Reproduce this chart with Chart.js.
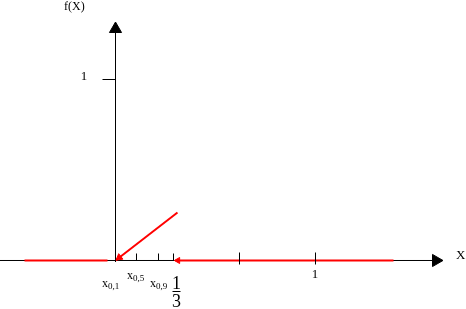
<!DOCTYPE html>
<html><head><meta charset="utf-8">
<script src="https://cdn.jsdelivr.net/npm/chart.js@4/dist/chart.umd.min.js"></script>
<style>html,body{margin:0;padding:0;background:#fff}canvas{display:block}</style>
</head><body>
<canvas id="c" width="466" height="309"></canvas>
<script>
// ---- data ----
const leftSegmentX  = [-0.455, -0.04];
const leftSegmentY  = [0, 0];
const rampX         = [0, 0.31];
const rampY         = [0, 0.265];
const rightSegmentX = [0.30, 1.39];
const rightSegmentY = [0, 0];
const smallTickValues = [0.105, 0.215, 0.29];
const largeTickValues = [0.62, 1.0];
const yTickValues   = [1];
const yTickLabels   = ['1'];
const xLabelValues  = [0, 0.105, 0.215];
const xLabelMains   = ['x', 'x', 'x'];
const xLabelSubs    = ['0,1', '0,5', '0,9'];
const fractionValue = 0.29;
const fractionText  = ['1', '3'];
const unitValue     = 1.0;
const unitLabel     = '1';
const xAxisTitle    = 'X';
const yAxisTitle    = 'f(X)';
const xAxisEnd = 1.6025;
const yAxisEnd = 1.279;
const yAxisStart = -0.0083;

const X_MIN = -0.5775, X_MAX = 1.7525, Y_MIN = -0.26796, Y_MAX = 1.43923;
const RED = '#ff0000';
const FONT = '"Liberation Serif", "Times New Roman", serif';

const pts = (xs, ys) => xs.map((v, i) => ({x: v, y: ys[i]}));

function rampRotation(c) {
  const ch = c.chart, sx = ch.scales.x, sy = ch.scales.y;
  const dx = sx.getPixelForValue(rampX[0]) - sx.getPixelForValue(rampX[1]);
  const dy = sy.getPixelForValue(rampY[0]) - sy.getPixelForValue(rampY[1]);
  return Math.atan2(dx, -dy) * 180 / Math.PI;
}

const overlay = {
  id: 'overlay',
  afterDatasetsDraw(chart) {
    const {ctx} = chart, sx = chart.scales.x, sy = chart.scales.y;
    const px = v => Math.round(sx.getPixelForValue(v) - 0.5) + 0.5;
    const py = v => Math.round(sy.getPixelForValue(v) - 0.5) + 0.5;
    const ax = px(0), ay = py(0);
    ctx.save();
    ctx.strokeStyle = '#000'; ctx.lineWidth = 1;
    ctx.beginPath();
    smallTickValues.forEach(v => { ctx.moveTo(px(v), ay - 7); ctx.lineTo(px(v), ay); });
    largeTickValues.forEach(v => { ctx.moveTo(px(v), ay - 8); ctx.lineTo(px(v), ay + 4); });
    yTickValues.forEach(v => { ctx.moveTo(ax - 13, py(v)); ctx.lineTo(ax, py(v)); });
    ctx.stroke();

    ctx.fillStyle = '#000';
    ctx.textBaseline = 'alphabetic';
    ctx.font = '13px ' + FONT; ctx.textAlign = 'center';
    yTickValues.forEach((v, i) => ctx.fillText(yTickLabels[i], ax - 31.5, py(v)));
    ctx.font = '12px ' + FONT; ctx.textAlign = 'left';
    ctx.fillText(yAxisTitle, ax - 51.5, 10);
    ctx.font = '13px ' + FONT;
    ctx.fillText(xAxisTitle, sx.getPixelForValue(xAxisEnd) + 20, ay - 2);
    const lo = [-13.5, -9.5, -8.5], base = [26, 18, 26];
    xLabelValues.forEach((v, i) => {
      let x = px(v) + lo[i], b = ay + base[i];
      ctx.font = '12px ' + FONT; ctx.textAlign = 'left';
      ctx.fillText(xLabelMains[i], x, b);
      x += ctx.measureText(xLabelMains[i]).width;
      ctx.font = '9px ' + FONT;
      ctx.fillText(xLabelSubs[i], x, b + 2);
    });
    const fx = px(fractionValue) + 3;
    ctx.font = '18px ' + FONT; ctx.textAlign = 'center';
    ctx.fillText(fractionText[0], fx, ay + 28);
    ctx.beginPath(); ctx.moveTo(fx - 4, ay + 31); ctx.lineTo(fx + 4, ay + 31); ctx.stroke();
    ctx.fillText(fractionText[1], fx, ay + 46);
    ctx.font = '13px ' + FONT;
    ctx.fillText(unitLabel, px(unitValue) - 0.5, ay + 17);
    ctx.restore();
  }
};

new Chart(document.getElementById('c'), {
  type: 'scatter',
  data: {
    datasets: [
      { data: pts(leftSegmentX, leftSegmentY), showLine: true, borderColor: RED, borderWidth: 2, pointRadius: 0, order: 1 },
      { data: pts(rampX, rampY), showLine: true, borderColor: RED, borderWidth: 2, pointRadius: 0, order: 1 },
      { data: pts(rightSegmentX, rightSegmentY), showLine: true, borderColor: RED, borderWidth: 2, pointRadius: 0, order: 1 },
      { data: [{x: rampX[0] + 0.06 * (rampX[1] - rampX[0]), y: rampY[0] + 0.06 * (rampY[1] - rampY[0])}],
        showLine: false, pointStyle: 'triangle', pointRadius: 4, pointRotation: rampRotation,
        backgroundColor: RED, borderColor: RED, borderWidth: 1, order: 0 },
      { data: [{x: rightSegmentX[0] + 0.012, y: rightSegmentY[0]}],
        showLine: false, pointStyle: 'triangle', pointRadius: 3.5, pointRotation: 270,
        backgroundColor: RED, borderColor: RED, borderWidth: 1, order: 0 },
      { data: [{x: X_MIN, y: 0}, {x: xAxisEnd, y: 0}], showLine: true, borderColor: '#000', borderWidth: 1,
        pointRadius: [0, 7], pointStyle: 'triangle', pointRotation: 90, backgroundColor: '#000', pointBorderColor: '#000', order: 5 },
      { data: [{x: 0, y: yAxisStart}, {x: 0, y: yAxisEnd}], showLine: true, borderColor: '#000', borderWidth: 1,
        pointRadius: [0, 7], pointStyle: 'triangle', pointRotation: 0, backgroundColor: '#000', pointBorderColor: '#000', order: 0 }
    ]
  },
  options: {
    responsive: false, animation: false, events: [],
    layout: { padding: 0, autoPadding: false },
    plugins: { legend: { display: false }, tooltip: { enabled: false } },
    scales: {
      x: { type: 'linear', min: X_MIN, max: X_MAX, display: false },
      y: { type: 'linear', min: Y_MIN, max: Y_MAX, display: false }
    }
  },
  plugins: [overlay]
});
</script>
</body></html>
